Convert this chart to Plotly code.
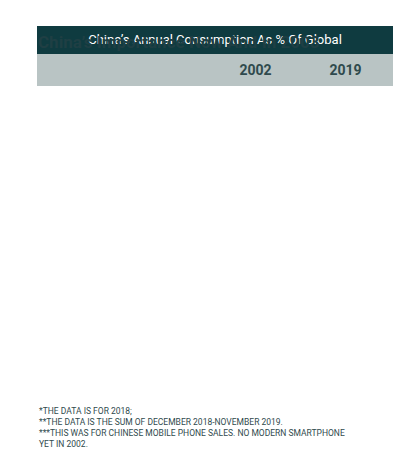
import plotly.graph_objects as go

items = ["Crude Oil Consumption", "Crude Steel Consumption", "Copper Consumption",
         "Aluminum Consumption", "Nickel Consumption", "Zinc Consumption",
         "Iron Ore imports", "Semiconductors Sales", "Smartphone Sales",
         "Personal Computer Sales", "Passenger Cars Sales"]
v2002 = ["6.6%", "22.6%", "17.8%", "16.5%", "7.2%", "21.0%", "21.0%", "5.0%", "11.2%***", "2.4%", "7.3%"]
v2019 = ["13.5%*", "47.5%*", "53.3%**", "57.3%**", "53.3%**", "48.4%**", "64.3%*", "34.6%**", "29.2%", "20.0%", "34.5%*"]
headers = ["", "<b>2002</b>", "<b>2019</b>"]
title = "<b>China’s Importance Now And In 2003</b>"
band = "China’s Annual Consumption As % Of Global"
notes = ["*THE DATA IS FOR 2018;",
         "**THE DATA IS THE SUM OF DECEMBER 2018-NOVEMBER 2019.",
         "***THIS WAS FOR CHINESE MOBILE PHONE SALES. NO MODERN SMARTPHONE",
         "YET IN 2002."]

W, H = 408, 450
txt = "#2f4a4d"
fills = ["#efefef" if i % 2 == 0 else "#ffffff" for i in range(len(items))]
x0, x1 = 29 / W, 385 / W
off = 12

fig = go.Figure()
fig.add_trace(go.Table(
    domain=dict(x=[x0, x1], y=[0.8, 1 - (30 - off) / H]),
    header=dict(values=[band], fill_color="#0f3b40", height=28, align="center",
                font=dict(family="Roboto", size=13, color="#ffffff"),
                line=dict(color="#0f3b40", width=0)),
    cells=dict(values=[[]], height=0, fill_color="#ffffff",
               line=dict(color="rgba(0,0,0,0)", width=0)),
))
fig.add_trace(go.Table(
    domain=dict(x=[x0, x1], y=[0.05, 1 - (58 - off) / H]),
    columnwidth=[176, 85, 95],
    header=dict(values=headers, fill_color="#b9c4c4", height=28,
                align=["left", "center", "center"],
                font=dict(family="Roboto", size=14, color=txt),
                line=dict(color="#b9c4c4", width=0)),
    cells=dict(values=[items, v2002, v2019], fill_color=[fills] * 3, height=28,
               align=["left", "center", "center"],
               font=dict(family="Roboto", size=13, color=txt),
               line=dict(color="rgba(0,0,0,0)", width=0)),
))

fig.add_annotation(text=title, xref="paper", yref="paper", x=x0 - 0.003, y=1 - 22 / H,
                   xanchor="left", showarrow=False,
                   font=dict(family="Roboto", size=17, color="#1f3f44"))
fig.add_annotation(text="<br>".join(notes), xref="paper", yref="paper", x=x0, y=1 - 396 / H,
                   xanchor="left", yanchor="top", align="left", showarrow=False,
                   font=dict(family="Roboto", size=8.5, color=txt))

fig.update_layout(width=W, height=H, margin=dict(l=0, r=0, t=0, b=0),
                  paper_bgcolor="#ffffff", plot_bgcolor="#ffffff")
fig.write_html("out.html")
